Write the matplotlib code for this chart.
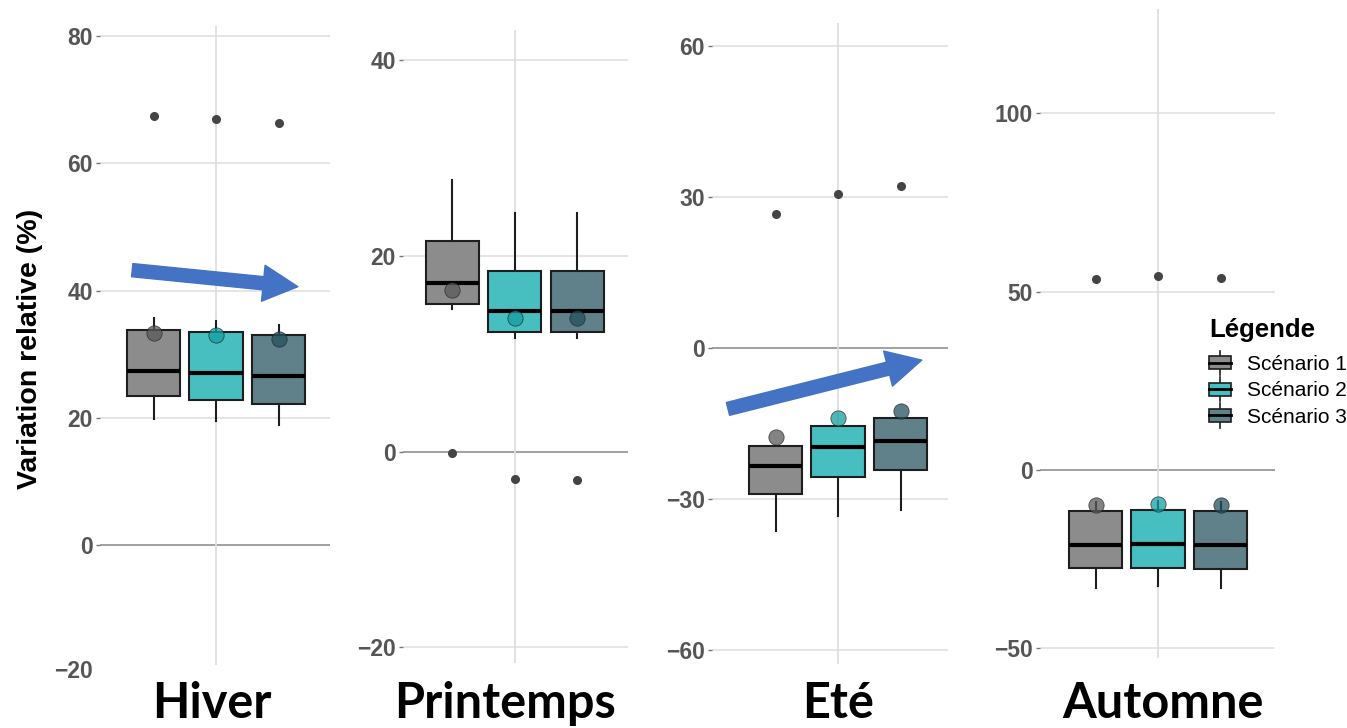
import matplotlib
matplotlib.use("Agg")
import matplotlib.pyplot as plt
from matplotlib.legend_handler import HandlerBase
from matplotlib.patches import Rectangle, Patch
from matplotlib.lines import Line2D

plt.rcParams['font.family'] = ['Liberation Sans', 'DejaVu Sans']

# --- data ---
seasons = ["Hiver", "Printemps", "Eté", "Automne"]
scenarios = ["Scénario 1", "Scénario 2", "Scénario 3"]

hiver_whishi = [35.7, 35.2, 34.6]
hiver_q3 = [33.8, 33.5, 33.0]
hiver_med = [27.4, 27.0, 26.6]
hiver_q1 = [23.4, 22.8, 22.2]
hiver_whislo = [19.8, 19.5, 18.9]
hiver_mean = [33.3, 33.0, 32.4]
hiver_out = [67.5, 66.9, 66.3]

print_whishi = [27.7, 24.4, 24.4]
print_q3 = [21.5, 18.4, 18.4]
print_med = [17.2, 14.3, 14.3]
print_q1 = [15.1, 12.2, 12.2]
print_whislo = [14.6, 11.6, 11.6]
print_mean = [16.5, 13.6, 13.6]
print_out = [-0.2, -2.8, -2.9]

ete_whishi = [-19.5, -15.5, -13.9]
ete_q3 = [-19.5, -15.5, -13.9]
ete_med = [-23.4, -19.7, -18.5]
ete_q1 = [-29.0, -25.6, -24.2]
ete_whislo = [-36.4, -33.4, -32.2]
ete_mean = [-17.7, -13.9, -12.5]
ete_out = [26.6, 30.6, 32.2]

aut_whishi = [-9.0, -8.7, -9.0]
aut_q3 = [-11.5, -11.2, -11.5]
aut_med = [-21.0, -20.7, -21.0]
aut_q1 = [-27.5, -27.5, -27.7]
aut_whislo = [-33.1, -32.5, -33.1]
aut_mean = [-9.8, -9.5, -9.8]
aut_out = [53.6, 54.4, 53.8]

hiver_ticks = [0, 20, 40, 60, 80]
print_ticks = [-20, 0, 20, 40]
ete_ticks = [-60, -30, 0, 30, 60]
aut_ticks = [-50, 0, 50, 100]

# --- style ---
box_fill = ['#8C8C8C', '#47BEC0', '#60808A']
mean_col = ['#5A5A5A', '#139FA3', '#25505F']
blue = '#4472C4'
grid_c = '#DEDEDE'
W, H = 1347, 728

fig = plt.figure(figsize=(W / 100, H / 100), dpi=100)


def px_axes(left, right, top, bottom):
    return fig.add_axes([left / W, 1 - bottom / H, (right - left) / W, (bottom - top) / H])


def panel(ax, whishi, q3, med, q1, whislo, mean, out, ticks, ylim, xlim):
    stats = []
    for i in range(3):
        stats.append(dict(whishi=whishi[i], q3=q3[i], med=med[i], q1=q1[i],
                          whislo=whislo[i], mean=mean[i], fliers=[out[i]]))
    ax.set_xlim(*xlim)
    ax.set_ylim(*ylim)
    for t in ticks:
        ax.axhline(t, color='#999999' if t == 0 else grid_c, lw=1.3 if t == 0 else 1.1, zorder=0)
    ax.axvline(0, color=grid_c, lw=1.3, zorder=0)
    bp = ax.bxp(stats, positions=[-1, 0, 1], widths=0.85, patch_artist=True,
                showmeans=False, showcaps=False, manage_ticks=False,
                boxprops=dict(linewidth=1.5, edgecolor='#1E1E1E'),
                whiskerprops=dict(linewidth=1.5, color='#1E1E1E'),
                medianprops=dict(linewidth=3, color='black'),
                flierprops=dict(marker='o', markersize=5.5, markerfacecolor='#444444',
                                markeredgecolor='#444444'))
    for patch, c in zip(bp['boxes'], box_fill):
        patch.set_facecolor(c)
    for i in range(3):
        ax.plot(i - 1, mean[i], 'o', ms=11, color=mean_col[i], alpha=0.75,
                mec='#222222', mew=0.6, zorder=5)
    ax.set_yticks(ticks)
    ax.set_xticks([])
    for s in ax.spines.values():
        s.set_visible(False)
    ax.tick_params(axis='y', length=3, width=1, color='#777777', labelcolor='#555555',
                   labelsize=16.5, pad=2)
    for lab in ax.get_yticklabels():
        lab.set_fontweight('bold')
    ax.patch.set_alpha(0)


ax1 = px_axes(100, 330, 26, 665)
panel(ax1, hiver_whishi, hiver_q3, hiver_med, hiver_q1, hiver_whislo, hiver_mean, hiver_out,
      hiver_ticks, (-18.9, 81.6), (-1.856, 1.824))
ax1.text(-0.03, -20, "\u221220", transform=ax1.get_yaxis_transform(), ha='right', va='center',
         fontsize=16.5, fontweight='bold', color='#555555', clip_on=False)

ax2 = px_axes(403, 628, 30, 663)
panel(ax2, print_whishi, print_q3, print_med, print_q1, print_whislo, print_mean, print_out,
      print_ticks, (-21.6, 43.05), (-1.79, 1.81))

ax3 = px_axes(712, 948, 23, 664)
panel(ax3, ete_whishi, ete_q3, ete_med, ete_q1, ete_whislo, ete_mean, ete_out,
      ete_ticks, (-62.8, 64.6), (-2.016, 1.76))

ax4 = px_axes(1040, 1275, 9, 658)
panel(ax4, aut_whishi, aut_q3, aut_med, aut_q1, aut_whislo, aut_mean, aut_out,
      aut_ticks, (-52.7, 129.2), (-1.888, 1.872))

# trend arrows
arrow_style = "simple,head_length=2.5,head_width=2.6,tail_width=0.95"
ax1.annotate('', xy=(1.31, 40.6), xytext=(-1.34, 43.2),
             arrowprops=dict(arrowstyle=arrow_style, mutation_scale=10, color=blue,
                             shrinkA=0, shrinkB=0), annotation_clip=False, zorder=10)
ax3.annotate('', xy=(1.34, -2.4), xytext=(-1.76, -12.1),
             arrowprops=dict(arrowstyle=arrow_style, mutation_scale=10, color=blue,
                             shrinkA=0, shrinkB=0), annotation_clip=False, zorder=10)


# legend with small boxplot keys
class BoxKey(HandlerBase):
    def create_artists(self, legend, orig_handle, xdescent, ydescent, width, height,
                       fontsize, trans):
        x0, y0 = -xdescent, -ydescent
        cx = x0 + width / 2
        whisk = Line2D([cx, cx], [y0 - 2, y0 + height + 2], color='#1E1E1E', lw=1.2,
                       transform=trans)
        box = Rectangle((x0, y0 + height * 0.15), width, height * 0.7,
                        facecolor=orig_handle.get_facecolor(), edgecolor='#1E1E1E',
                        lw=1.2, transform=trans)
        med = Line2D([x0, x0 + width], [y0 + height / 2] * 2, color='black', lw=2,
                     transform=trans)
        return [whisk, box, med]


handles = [Patch(facecolor=c) for c in box_fill]
leg = fig.legend(handles, scenarios, handler_map={Patch: BoxKey()},
                 loc='upper left', bbox_to_anchor=(1199 / W, 1 - 308 / H),
                 frameon=False, title="Légende", alignment='left', borderpad=0,
                 fontsize=15, handlelength=1.05, handleheight=1.0, handletextpad=0.75,
                 labelspacing=0.28)
leg.get_title().set_fontsize(18.5)
leg.get_title().set_fontweight('bold')
leg._legend_box.sep = 8

# axis title and season labels
fig.text(30 / W, 1 - 349 / H, "Variation relative (%)", rotation=90, ha='center', va='center',
         fontsize=20.5, fontweight='bold')
season_x = [212, 505, 838, 1163]
for name, x in zip(seasons, season_x):
    fig.text(x / W, 1 - 718 / H, name, ha='center', va='baseline', fontsize=35,
             fontweight='bold', family=['Lato', 'DejaVu Sans'])

fig.savefig("out.png", dpi=100)
